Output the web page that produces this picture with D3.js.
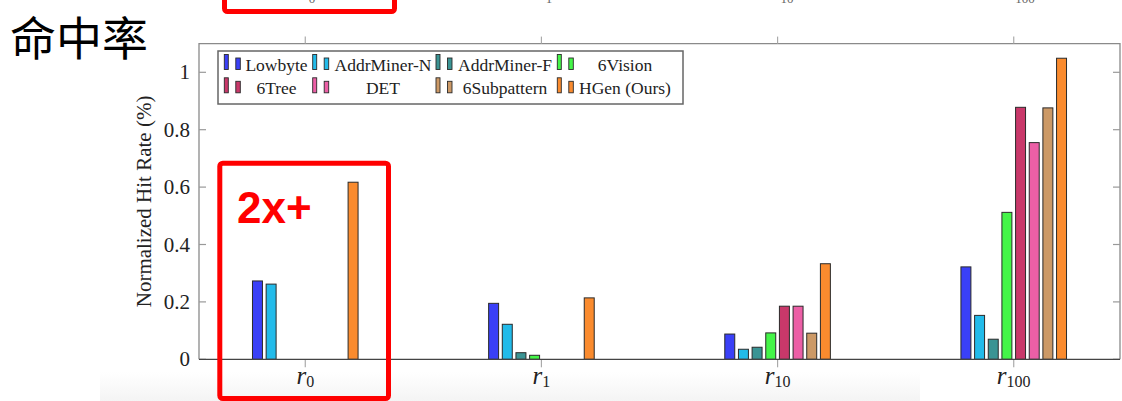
<!DOCTYPE html>
<html>
<head>
<meta charset="utf-8">
<script src="https://cdn.jsdelivr.net/npm/d3@7"></script>
<style>
html,body{margin:0;padding:0;background:#fff;}
svg{display:block;}
</style>
</head>
<body>
<svg id="chart" width="1122" height="401"></svg>
<script>
// ---------- data ----------
const categories = ["r0", "r1", "r10", "r100"];
const categorySubs = ["0", "1", "10", "100"];
const seriesNames = ["Lowbyte", "AddrMiner-N", "AddrMiner-F", "6Vision", "6Tree", "DET", "6Subpattern", "HGen (Ours)"];
const seriesColors = ["#3a40f7", "#22bbea", "#3a9494", "#44f548", "#c9386a", "#ec5fa6", "#cc9966", "#fa8b2e"];
const lowbyte      = [0.273, 0.195, 0.088, 0.322];
const addrMinerN   = [0.262, 0.122, 0.035, 0.153];
const addrMinerF   = [null, 0.023, 0.042, 0.070];
const sixVision    = [null, 0.014, 0.092, 0.512];
const sixTree      = [null, null, 0.185, 0.878];
const det          = [null, null, 0.185, 0.755];
const sixSubpattern= [null, null, 0.091, 0.876];
const hgen         = [0.617, 0.214, 0.333, 1.049];
const seriesValues = [lowbyte, addrMinerN, addrMinerF, sixVision, sixTree, det, sixSubpattern, hgen];
const yTicks = [0, 0.2, 0.4, 0.6, 0.8, 1];
const yTickLabels = ["0", "0.2", "0.4", "0.6", "0.8", "1"];
const yLabel = "Normalized Hit Rate (%)";
const slideTitle = "命中率";
const callout = "2x+";

// ---------- layout ----------
const SERIF = "'Liberation Serif', 'Times New Roman', serif";
const svg = d3.select("#chart");
const L = 199, R = 1120, T = 43.6, B = 359.3;

// faint bottom shading
const defs = svg.append("defs");
const g1 = defs.append("linearGradient").attr("id","shade").attr("x1",0).attr("y1",0).attr("x2",0).attr("y2",1);
g1.append("stop").attr("offset","0").attr("stop-color","#ffffff");
g1.append("stop").attr("offset","1").attr("stop-color","#f4f4f4");
svg.append("rect").attr("x",100).attr("y",372).attr("width",820).attr("height",29).attr("fill","url(#shade)");

const x = d3.scalePoint().domain(categories).range([L, R]).padding(0.45);
const xb = d3.scaleBand().domain(seriesNames).range([-54.64, 54.64]).paddingInner(0.27).paddingOuter(0.135);
const y = d3.scaleLinear().domain([0, 1.1]).range([B, T]);

// top fragments from previous slide
svg.append("rect").attr("x",224.5).attr("y",-40).attr("width",170).attr("height",51.5)
  .attr("rx",3).attr("fill","none").attr("stroke","#ff0000").attr("stroke-width",5);
const fragX = [312, 549, 787, 1025];
svg.selectAll("text.frag").data(categorySubs).join("text").attr("class","frag")
  .attr("x",(d,i)=>fragX[i]).attr("y",3).attr("text-anchor","middle")
  .attr("font-family",SERIF).attr("font-size",13).attr("fill","#666").text(d=>d);

// title
svg.append("text").attr("x",10).attr("y",55).attr("font-family","'Noto Sans CJK SC'")
  .attr("font-size",46).attr("fill","#000").text(slideTitle);

// frame
const frameColor = "#8a8a8a";
svg.append("path").attr("d",`M${L},${B}V${T}H${R}V${B}`).attr("fill","none").attr("stroke",frameColor).attr("stroke-width",1.3);

// ticks: x top (outward) and bottom (outward)
svg.selectAll("line.xtt").data(categories).join("line").attr("class","xtt")
  .attr("x1",d=>x(d)).attr("x2",d=>x(d)).attr("y1",T).attr("y2",T-7)
  .attr("stroke","#aaa").attr("stroke-width",1.2);
svg.selectAll("line.xtb").data(categories).join("line").attr("class","xtb")
  .attr("x1",d=>x(d)).attr("x2",d=>x(d)).attr("y1",B).attr("y2",B+8)
  .attr("stroke","#aaa").attr("stroke-width",1.2);

// y ticks inward both sides
svg.selectAll("line.ytl").data(yTicks).join("line").attr("class","ytl")
  .attr("x1",L).attr("x2",L+7).attr("y1",d=>y(d)).attr("y2",d=>y(d))
  .attr("stroke","#999").attr("stroke-width",1.2);
svg.selectAll("line.ytr").data(yTicks).join("line").attr("class","ytr")
  .attr("x1",R).attr("x2",R-7).attr("y1",d=>y(d)).attr("y2",d=>y(d))
  .attr("stroke","#999").attr("stroke-width",1.2);
svg.selectAll("text.ytl").data(yTicks).join("text").attr("class","ytl")
  .attr("x",190).attr("y",d=>y(d)+7).attr("text-anchor","end")
  .attr("font-family",SERIF).attr("font-size",21).attr("fill","#222")
  .text((d,i)=>yTickLabels[i]);

// y label
svg.append("text").attr("transform",`translate(151,${(T+B)/2}) rotate(-90)`)
  .attr("text-anchor","middle").attr("font-family",SERIF).attr("font-size",21)
  .attr("fill","#222").text(yLabel);

// bars
const groups = svg.append("g");
seriesNames.forEach((name, si) => {
  const vals = seriesValues[si];
  groups.append("g").selectAll("rect").data(categories.map((c,ci)=>({c, v: vals[ci]})).filter(d=>d.v!=null))
    .join("rect")
    .attr("x", d => x(d.c) + xb(name))
    .attr("width", xb.bandwidth())
    .attr("y", d => y(d.v))
    .attr("height", d => y(0) - y(d.v))
    .attr("fill", seriesColors[si])
    .attr("stroke", "#2a2a2a").attr("stroke-width", 1);
});

// bottom axis line
svg.append("line").attr("x1",L).attr("x2",R).attr("y1",B).attr("y2",B).attr("stroke","#444").attr("stroke-width",1.3);

// x labels r_sub
categories.forEach((c, i) => {
  const t = svg.append("text").attr("font-family",SERIF).attr("fill","#222")
    .attr("text-anchor","middle").attr("x", x(c)).attr("y", 384);
  t.append("tspan").attr("font-style","italic").attr("font-size",25).text("r");
  t.append("tspan").attr("font-size",16).attr("dy",3).text(categorySubs[i]);
});

// legend
svg.append("rect").attr("x",218).attr("y",51).attr("width",465).attr("height",53)
  .attr("fill","#fff").attr("stroke","#666").attr("stroke-width",1.5);
const iconX = [224.3, 312.7, 436, 557.3];
const textCX = [276.5, 383, 505, 625];
const rowBase = [71, 94.3];
seriesNames.forEach((name, si) => {
  const col = si % 4, row = Math.floor(si / 4);
  const bottom = rowBase[row] - 1.5;
  const g = svg.append("g");
  g.append("rect").attr("x", iconX[col]).attr("y", bottom - 15).attr("width", 4).attr("height", 15)
    .attr("fill", seriesColors[si]).attr("stroke","#2a2a2a").attr("stroke-width",0.9);
  g.append("rect").attr("x", iconX[col] + 11.5).attr("y", bottom - 11.5).attr("width", 4.5).attr("height", 11.5)
    .attr("fill", seriesColors[si]).attr("stroke","#2a2a2a").attr("stroke-width",0.9);
  g.append("text").attr("x", textCX[col]).attr("y", rowBase[row]).attr("text-anchor","middle")
    .attr("font-family",SERIF).attr("font-size",17.5).attr("fill","#222").text(name);
});

// callout box
svg.append("rect").attr("x",219.8).attr("y",163.2).attr("width",168.7).attr("height",235.3)
  .attr("rx",3).attr("fill","none").attr("stroke","#ff0000").attr("stroke-width",5);
svg.append("text").attr("x",237).attr("y",223).attr("font-family","'Liberation Sans', Arial, sans-serif")
  .attr("font-weight","bold").attr("font-size",44).attr("fill","#ff0000").text(callout);
</script>
</body>
</html>
